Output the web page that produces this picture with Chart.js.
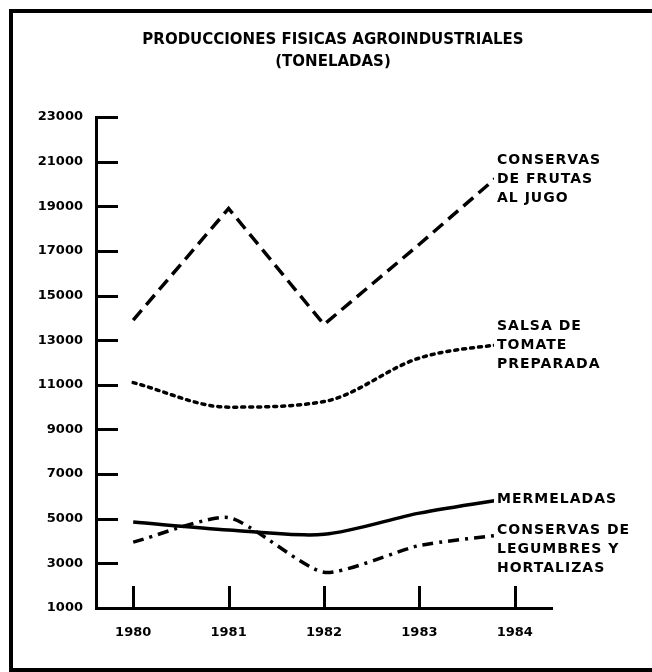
<!DOCTYPE html>
<html>
<head>
<meta charset="utf-8">
<script src="https://cdn.jsdelivr.net/npm/chart.js@4.4.1/dist/chart.umd.min.js"></script>
<style>
  html, body { margin: 0; padding: 0; background: #fff; }
  #wrap { position: relative; width: 652px; height: 672px; overflow: hidden; }
  #frame {
    position: absolute; left: 9px; top: 9px; right: -10px; bottom: 0;
    border-left: 4px solid #000; border-top: 4px solid #000; border-bottom: 4px solid #000;
    pointer-events: none;
  }
  canvas { position: absolute; left: 0; top: 0; }
</style>
</head>
<body>
<div id="wrap">
  <canvas id="lineChart" width="652" height="672"></canvas>
  <div id="frame"></div>
</div>
<script>
// Data
const years = [1980, 1981, 1982, 1983, 1984];
const frutas = [13900, 18900, 13700, 17300, 21000];
const salsa = [11100, 10000, 10250, 12200, 12900];
const mermeladas = [4850, 4500, 4300, 5250, 5950];
const legumbres = [3950, 5050, 2600, 3800, 4350];
const yTicks = [1000, 3000, 5000, 7000, 9000, 11000, 13000, 15000, 17000, 19000, 21000, 23000];

const titleLines = ['PRODUCCIONES FISICAS AGROINDUSTRIALES', '(TONELADAS)'];
const seriesNames = [
    ['CONSERVAS', 'DE FRUTAS', 'AL JUGO'],
    ['SALSA DE', 'TOMATE', 'PREPARADA'],
    ['MERMELADAS'],
    ['CONSERVAS DE', 'LEGUMBRES Y', 'HORTALIZAS']
];

const toPoints = arr => arr.map((v, i) => ({ x: years[i], y: v }));

// title sits centred on the page frame, not on the plot
const pageTitle = {
    id: 'pageTitle',
    afterDraw(chart) {
        const ctx = chart.ctx;
        ctx.save();
        ctx.font = 'bold 15px "DejaVu Sans", sans-serif';
        ctx.fillStyle = '#000';
        ctx.textAlign = 'center';
        ctx.textBaseline = 'middle';
        ctx.fillText(titleLines[0], 333, 40);
        ctx.fillText(titleLines[1], 333, 62);
        ctx.restore();
    }
};

// short tick marks drawn inward from the axes, like the original
const inwardTicks = {
    id: 'inwardTicks',
    afterDraw(chart) {
        const { ctx, chartArea, scales: { x, y } } = chart;
        ctx.save();
        ctx.strokeStyle = '#000';
        ctx.lineWidth = 3;
        ctx.beginPath();
        yTicks.forEach(t => {
            const py = Math.round(y.getPixelForValue(t)) + 0.5;
            ctx.moveTo(chartArea.left, py);
            ctx.lineTo(chartArea.left + 22, py);
        });
        years.forEach(t => {
            const px = Math.round(x.getPixelForValue(t)) + 0.5;
            ctx.moveTo(px, chartArea.bottom);
            ctx.lineTo(px, chartArea.bottom - 22);
        });
        ctx.stroke();
        ctx.restore();
    }
};

// series names at the right end of each line
const endLabels = {
    id: 'endLabels',
    afterDatasetsDraw(chart) {
        const ctx = chart.ctx;
        const blocks = [
            { lines: seriesNames[0], top: 160 },
            { lines: seriesNames[1], top: 326 },
            { lines: seriesNames[2], top: 499 },
            { lines: seriesNames[3], top: 530 }
        ];
        ctx.save();
        ctx.font = 'bold 14px "DejaVu Sans", sans-serif';
        ctx.letterSpacing = '1px';
        ctx.textBaseline = 'middle';
        ctx.textAlign = 'left';
        blocks.forEach(b => {
            ctx.fillStyle = '#fff';
            ctx.fillRect(494, b.top - 10, 150, (b.lines.length - 1) * 19 + 20);
            ctx.fillStyle = '#000';
            b.lines.forEach((s, i) => ctx.fillText(s, 497, b.top + i * 19));
        });
        ctx.restore();
    }
};

const lineCtx = document.getElementById('lineChart').getContext('2d');
const lineChart = new Chart(lineCtx, {
    type: 'line',
    data: {
        datasets: [{
            label: 'Conservas de frutas al jugo',
            data: toPoints(frutas),
            borderColor: '#000',
            borderWidth: 3.5,
            borderDash: [13, 7],
            tension: 0,
            pointRadius: 0
        }, {
            label: 'Salsa de tomate preparada',
            data: toPoints(salsa),
            borderColor: '#000',
            borderWidth: 3.5,
            borderDash: [3, 5],
            borderCapStyle: 'round',
            cubicInterpolationMode: 'monotone',
            pointRadius: 0
        }, {
            label: 'Mermeladas',
            data: toPoints(mermeladas),
            borderColor: '#000',
            borderWidth: 3.5,
            tension: 0.3,
            pointRadius: 0
        }, {
            label: 'Conservas de legumbres y hortalizas',
            data: toPoints(legumbres),
            borderColor: '#000',
            borderWidth: 3.5,
            borderDash: [11, 6, 3, 6],
            tension: 0.2,
            pointRadius: 0
        }]
    },
    options: {
        responsive: false,
        animation: false,
        layout: {
            padding: { top: 117, left: 10, right: 100, bottom: 0 }
        },
        scales: {
            x: {
                type: 'linear',
                min: 1979.61,
                max: 1984.39,
                afterBuildTicks: s => { s.ticks = years.map(v => ({ value: v })); },
                afterFit: s => { s.height = 64; },
                grid: { display: false, drawTicks: false },
                border: { display: true, color: '#000', width: 3 },
                ticks: {
                    padding: 17,
                    color: '#000',
                    font: { family: '"DejaVu Sans", sans-serif', size: 13, weight: 'bold' },
                    callback: v => String(v)
                }
            },
            y: {
                min: 1000,
                max: 23000,
                afterBuildTicks: s => { s.ticks = yTicks.map(v => ({ value: v })); },
                afterFit: s => { s.width = 86; },
                grid: { display: false, drawTicks: false },
                border: { display: true, color: '#000', width: 3 },
                ticks: {
                    padding: 13,
                    color: '#000',
                    font: { family: '"DejaVu Sans", sans-serif', size: 13, weight: 'bold' },
                    callback: v => String(v)
                }
            }
        },
        plugins: {
            legend: { display: false },
            tooltip: { enabled: false },
            title: { display: false }
        }
    },
    plugins: [pageTitle, inwardTicks, endLabels]
});
</script>
</body>
</html>
